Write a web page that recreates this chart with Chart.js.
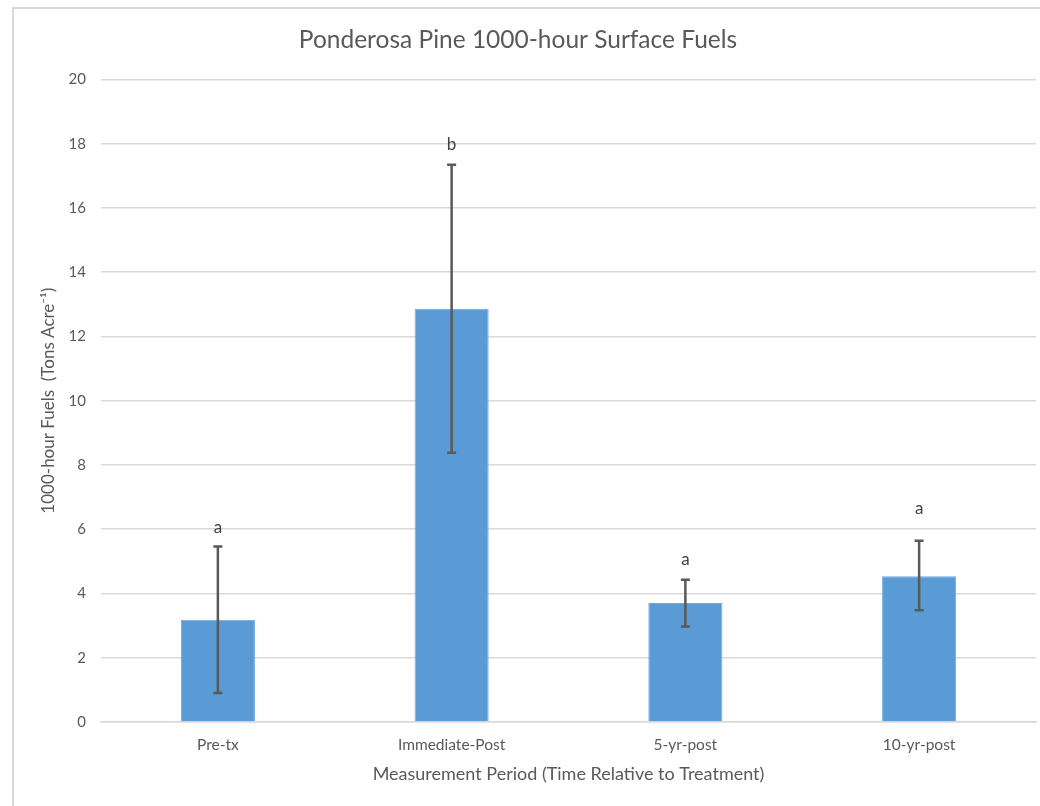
<!DOCTYPE html>
<html lang="en">
<head>
    <meta charset="UTF-8">
    <title>Ponderosa Pine 1000-hour Surface Fuels</title>
    <script src="https://cdn.jsdelivr.net/npm/chart.js"></script>
    <style>
        html, body { margin: 0; padding: 0; background: #fff; }
        .wrap { position: relative; width: 1040px; height: 806px; overflow: hidden; }
        .frame { position: absolute; left: 12px; top: 7px; width: 1100px; height: 900px; border: 2px solid #d9d9d9; box-sizing: border-box; }
        canvas { position: absolute; left: 0; top: 0; }
    </style>
</head>
<body>
    <div class="wrap">
        <div class="frame"></div>
        <canvas id="chart" width="1040" height="806"></canvas>
    </div>

    <script>
        // data
        const periods = ['Pre-tx', 'Immediate-Post', '5-yr-post', '10-yr-post'];
        const fuels = [3.18, 12.86, 3.70, 4.54];
        const errLow = [0.90, 8.38, 2.97, 3.48];
        const errHigh = [5.46, 17.34, 4.43, 5.64];
        const letters = ['a', 'b', 'a', 'a'];
        const letterY = [6.05, 17.98, 5.05, 6.63];
        const yTicks = [0, 2, 4, 6, 8, 10, 12, 14, 16, 18, 20];

        const fontName = 'Lato, "Open Sans", sans-serif';
        const grey = '#595959';

        // draws the error bars and the letters on top of the bars
        const errorBars = {
            id: 'errorBars',
            afterDatasetsDraw(chart) {
                const ctx = chart.ctx;
                const x = chart.scales.x;
                const y = chart.scales.y;
                ctx.save();
                ctx.strokeStyle = grey;
                ctx.lineWidth = 2.5;
                periods.forEach((p, i) => {
                    const cx = x.getPixelForValue(i);
                    const top = y.getPixelForValue(errHigh[i]);
                    const bot = y.getPixelForValue(errLow[i]);
                    ctx.beginPath();
                    ctx.moveTo(cx, top);
                    ctx.lineTo(cx, bot);
                    ctx.moveTo(cx - 4.5, top);
                    ctx.lineTo(cx + 4.5, top);
                    ctx.moveTo(cx - 4.5, bot);
                    ctx.lineTo(cx + 4.5, bot);
                    ctx.stroke();

                    ctx.fillStyle = '#404040';
                    ctx.font = '17px ' + fontName;
                    ctx.textAlign = 'center';
                    ctx.textBaseline = 'middle';
                    ctx.fillText(letters[i], cx, y.getPixelForValue(letterY[i]));
                });
                ctx.restore();
            }
        };

        new Chart(document.getElementById('chart').getContext('2d'), {
            type: 'bar',
            data: {
                labels: periods,
                datasets: [{
                    data: fuels,
                    backgroundColor: '#5B9BD5',
                    borderColor: '#6FA9DD',
                    borderWidth: 1,
                    barPercentage: 0.317,
                    categoryPercentage: 1
                }]
            },
            options: {
                responsive: false,
                animation: false,
                layout: { padding: { top: 0, right: 4, bottom: 0, left: 0 } },
                plugins: {
                    legend: { display: false },
                    tooltip: { enabled: false },
                    title: {
                        display: true,
                        text: 'Ponderosa Pine 1000-hour Surface Fuels',
                        color: grey,
                        font: { family: fontName, size: 24.5, weight: 'normal' },
                        padding: { top: 25, bottom: 25 }
                    }
                },
                scales: {
                    x: {
                        grid: { display: false, drawTicks: false },
                        border: { color: '#d9d9d9', width: 1.5 },
                        ticks: { color: grey, font: { family: fontName, size: 15.5 }, padding: 14 },
                        title: {
                            display: true,
                            text: 'Measurement Period (Time Relative to Treatment)',
                            color: grey,
                            font: { family: fontName, size: 18 },
                            padding: { top: 0, bottom: 21 }
                        },
                        afterFit(scale) { scale.height = 84; }
                    },
                    y: {
                        min: 0,
                        max: 20,
                        afterBuildTicks(scale) { scale.ticks = yTicks.map(v => ({ value: v })); },
                        grid: { color: '#d9d9d9', lineWidth: 1.5, drawTicks: false },
                        border: { display: false },
                        ticks: { color: grey, font: { family: fontName, size: 15 }, padding: 15 },
                        title: {
                            display: true,
                            text: '1000-hour Fuels  (Tons Acre\u207B\u00B9)',
                            color: grey,
                            font: { family: fontName, size: 17 },
                            padding: { top: 38, bottom: 0 }
                        },
                        afterFit(scale) { scale.width = 101; }
                    }
                }
            },
            plugins: [errorBars]
        });
    </script>
</body>
</html>
